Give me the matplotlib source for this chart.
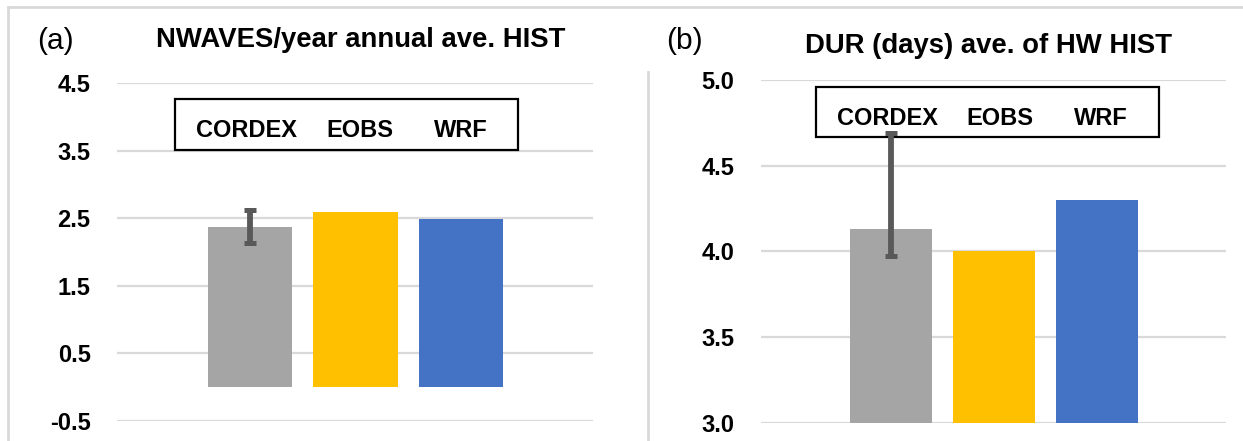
import matplotlib.pyplot as plt
from matplotlib.patches import Rectangle
from matplotlib.lines import Line2D

plt.rcParams['font.family'] = ['Liberation Sans', 'DejaVu Sans']

sources = ['CORDEX', 'EOBS', 'WRF']
colors = ['#a5a5a5', '#ffc000', '#4472c4']

nwaves = [2.37, 2.59, 2.49]
nwaves_err_low = [2.13, None, None]
nwaves_err_high = [2.62, None, None]
nwaves_ticks = [-0.5, 0.5, 1.5, 2.5, 3.5, 4.5]

dur = [4.13, 4.00, 4.30]
dur_err_low = [3.97, None, None]
dur_err_high = [4.69, None, None]
dur_ticks = [3.0, 3.5, 4.0, 4.5, 5.0]

fig = plt.figure(figsize=(12.43, 4.41), dpi=100)


def panel(rect, vals, lo, hi, ticks, fmt, bottom, box, text_x, text_y):
    ax = fig.add_axes(rect)
    x = list(range(len(vals)))
    heights = [v - bottom for v in vals]
    ax.bar(x, heights, bottom=bottom, width=0.8, color=colors, zorder=2)
    # error bar on CORDEX only
    ax.errorbar([x[0]], [vals[0]], yerr=[[vals[0] - lo[0]], [hi[0] - vals[0]]],
                fmt='none', ecolor='#595959', elinewidth=4.2, capsize=4.6,
                capthick=3.6, zorder=4)
    ax.set_xlim(-1.26, 3.25)
    ax.set_ylim(ticks[0], ticks[-1])
    ax.set_yticks(ticks)
    ax.set_yticklabels([fmt.format(t) for t in ticks], fontsize=17, fontweight='bold')
    ax.set_xticks([])
    ax.tick_params(axis='y', length=0, pad=19)
    ax.grid(axis='y', color='#d9d9d9', linewidth=1.6, zorder=0)
    ax.set_axisbelow(True)
    for s in ax.spines.values():
        s.set_visible(False)
    ax.add_patch(Rectangle((box[0], box[1]), box[2] - box[0], box[3] - box[1],
                           transform=ax.transAxes, fill=False, edgecolor='black',
                           linewidth=1.6, zorder=3, clip_on=False))
    for name, tx in zip(sources, text_x):
        ax.text(tx, text_y, name, transform=ax.transAxes, ha='center', va='center',
                fontsize=17, fontweight='bold', zorder=5)
    return ax


panel([0.0941, 0.04535, 0.3829, 0.7658], nwaves, nwaves_err_low, nwaves_err_high,
      nwaves_ticks, '{:.1f}', 0.0, (0.1229, 0.8025, 0.8433, 0.9535),
      [0.2731, 0.5097, 0.7223], 0.8588)
panel([0.6122, 0.0415, 0.3739, 0.7771], dur, dur_err_low, dur_err_high,
      dur_ticks, '{:.1f}', 3.0, (0.1179, 0.8346, 0.8559, 0.9805),
      [0.2722, 0.5135, 0.7315], 0.8882)

fig.text(0.2904, 0.894, 'NWAVES/year annual ave. HIST', ha='center', va='baseline',
         fontsize=19.8, fontweight='bold')
fig.text(0.7949, 0.8798, 'DUR (days) ave. of HW HIST', ha='center', va='baseline',
         fontsize=19.8, fontweight='bold')
fig.text(0.0448, 0.907, '(a)', ha='center', va='center', fontsize=21.5)
fig.text(0.5503, 0.907, '(b)', ha='center', va='center', fontsize=21.5)

# light frame lines around the panels
W, H = 1243, 441
frame = dict(color='#d9d9d9', linewidth=2, transform=fig.transFigure)
fig.add_artist(Line2D([8 / W, 1], [1 - 7 / H, 1 - 7 / H], **frame))
fig.add_artist(Line2D([8 / W, 8 / W], [0, 1 - 7 / H], **frame))
fig.add_artist(Line2D([647.7 / W, 647.7 / W], [0, 1 - 72 / H], **frame))

fig.savefig('out.png', dpi=100)
